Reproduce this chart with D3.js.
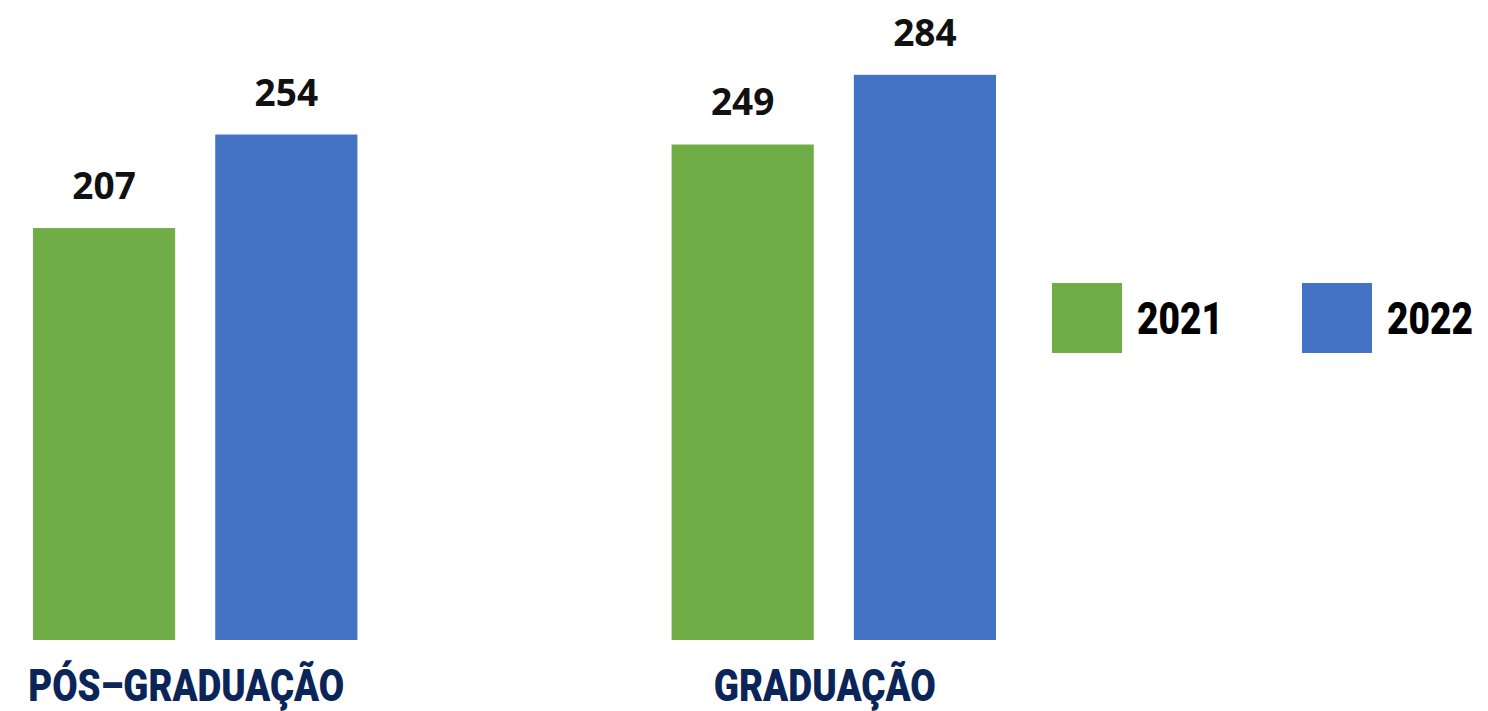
<!DOCTYPE html>
<html>
<head>
<meta charset="utf-8">
<script src="https://cdn.jsdelivr.net/npm/d3@7"></script>
<style>
  body { margin: 0; background: #fff; }
  svg { display: block; }
</style>
</head>
<body>
<svg id="chart" width="1488" height="711"></svg>
<script>
// data
var categories = ["PÓS–GRADUAÇÃO", "GRADUAÇÃO"];
var years = ["2021", "2022"];
var values2021 = [207, 249];
var values2022 = [254, 284];
var colors = ["#70ad47", "#4472c4"];

var svg = d3.select("#chart");

var x0 = d3.scaleBand()
	.domain(categories)
	.range([33, 996])
	.paddingInner(0.492)
	.paddingOuter(0);

var x1 = d3.scaleBand()
	.domain(years)
	.range([0, x0.bandwidth()])
	.paddingInner(0.22);

var y = d3.scaleLinear()
	.domain([0, 300])
	.range([640, 43]);

var color = d3.scaleOrdinal().domain(years).range(colors);

var rows = categories.map(function(c, i) {
	return { cat: c, vals: [
		{ year: years[0], v: values2021[i] },
		{ year: years[1], v: values2022[i] }
	]};
});

var groups = svg.selectAll(".group")
	.data(rows)
	.enter().append("g")
	.attr("class", "group")
	.attr("transform", function(d) { return "translate(" + x0(d.cat) + ",0)"; });

groups.selectAll("rect")
	.data(function(d) { return d.vals; })
	.enter().append("rect")
	.attr("x", function(d) { return x1(d.year); })
	.attr("y", function(d) { return y(d.v); })
	.attr("width", x1.bandwidth())
	.attr("height", function(d) { return y(0) - y(d.v); })
	.attr("fill", function(d) { return color(d.year); });

// value labels
groups.selectAll(".val")
	.data(function(d) { return d.vals; })
	.enter().append("text")
	.attr("class", "val")
	.attr("x", function(d) { return x1(d.year) + x1.bandwidth() / 2; })
	.attr("y", function(d) { return y(d.v) - 29; })
	.attr("text-anchor", "middle")
	.style("font-family", "'Open Sans', sans-serif")
	.style("font-weight", 700)
	.style("font-size", "37px")
	.style("fill", "#111")
	.text(function(d) { return d.v; });

// category labels
var catWidths = [316, 222];
groups.append("text")
	.attr("x", x0.bandwidth() / 2 - 9)
	.attr("y", 701)
	.attr("text-anchor", "middle")
	.attr("textLength", function(d, i) { return catWidths[i]; })
	.attr("lengthAdjust", "spacingAndGlyphs")
	.style("font-family", "Roboto, sans-serif")
	.style("font-weight", 900)
	.style("font-size", "45px")
	.style("fill", "#0b2559")
	.text(function(d) { return d.cat; });

// legend
var legendX = d3.scaleOrdinal().domain(years).range([1052, 1302]);
var legend = svg.selectAll(".legend")
	.data(years)
	.enter().append("g")
	.attr("class", "legend")
	.attr("transform", function(d) { return "translate(" + legendX(d) + ",283)"; });

legend.append("rect")
	.attr("width", 70)
	.attr("height", 70)
	.attr("fill", function(d) { return color(d); });

legend.append("text")
	.attr("x", 85)
	.attr("y", 51)
	.attr("textLength", 86)
	.attr("lengthAdjust", "spacingAndGlyphs")
	.style("font-family", "Roboto, sans-serif")
	.style("font-weight", 900)
	.style("font-size", "44px")
	.style("fill", "#000")
	.text(function(d) { return d; });
</script>
</body>
</html>
